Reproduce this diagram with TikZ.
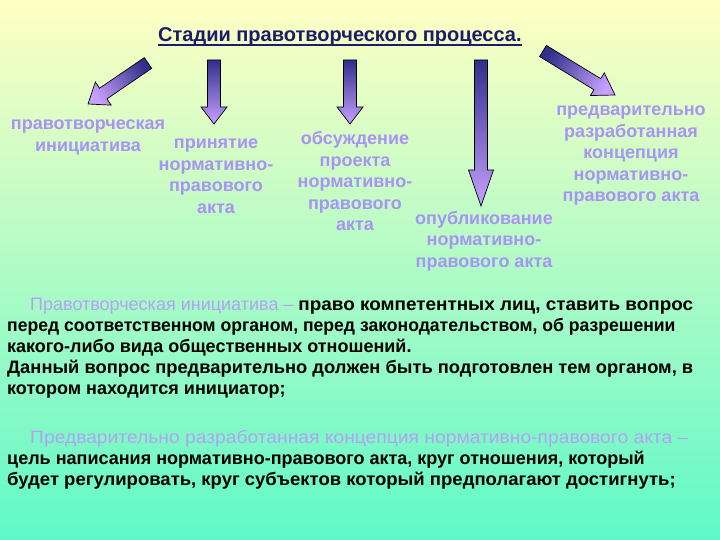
\documentclass[tikz,border=0pt]{standalone}
\usepackage{fontspec}
\setmainfont{Liberation Sans}
\usetikzlibrary{calc}
\definecolor{bgtop}{HTML}{FFFFC4}
\definecolor{bgbot}{HTML}{60F8C8}
\definecolor{arrdark}{HTML}{30308C}
\definecolor{arrlight}{HTML}{C8A0FF}
\definecolor{lav}{HTML}{A993F5}
\definecolor{lavb}{HTML}{B6A0F7}
\definecolor{navy}{HTML}{1C1C6E}
\tikzset{
  arrbody/.style={draw=black, line width=0.7pt, line join=miter, top color=arrdark, bottom color=arrlight},
  lbl/.style={text=lav, font=\bfseries\fontsize{18}{21.5}\selectfont, align=center, inner sep=0pt},
  bodyline/.style={anchor=base west, inner sep=0pt, font=\fontsize{18}{21}\selectfont},
  ttl/.style={text=navy, font=\bfseries\fontsize{20}{23}\selectfont, inner sep=0pt, anchor=base west}
}
% #1 tail, #2 tip, #3 head length, #4 head half width, #5 shading angle, #6 name of head base
\newcommand{\blockarrow}[6]{%
  \coordinate (#6) at ($(#2)!#3!(#1)$);
  \shadedraw[arrbody, shading angle=#5]
    ($(#1)!6.5pt!90:(#2)$) -- ($(#6)!6.5pt!90:(#2)$) -- ($(#6)!#4!90:(#2)$) -- (#2)
    -- ($(#6)!#4!-90:(#2)$) -- ($(#6)!6.5pt!-90:(#2)$) -- ($(#1)!6.5pt!-90:(#2)$) -- cycle;
}
\begin{document}
\begin{tikzpicture}[x=1pt,y=-1pt]
\useasboundingbox (0,0) rectangle (720,540);
\shade[top color=bgtop, bottom color=bgbot] (0,0) rectangle (720,540);

% title
\node[ttl] (title) at (158,42) {Стадии правотворческого процесса.};
\draw[navy, line width=1.4pt] ([yshift=-3pt]title.base west) -- ([yshift=-3pt]title.base east);

% arrows
\coordinate (t1) at (148,63);  \coordinate (h1) at (88,104);
\coordinate (t2) at (214,60);  \coordinate (h2) at (214,124);
\coordinate (t3) at (350,60);  \coordinate (h3) at (350,124);
\coordinate (t4) at (481,60);  \coordinate (h4) at (481,206);
\coordinate (t5) at (543,51);  \coordinate (h5) at (615,95);
\blockarrow{t1}{h1}{18.5pt}{14pt}{-55.7}{b1}
\blockarrow{t2}{h2}{17pt}{13pt}{0}{b2}
\blockarrow{t3}{h3}{17pt}{13pt}{0}{b3}
\blockarrow{t4}{h4}{36pt}{12.5pt}{0}{b4}
\blockarrow{t5}{h5}{20.7pt}{13.3pt}{58.6}{b5}

% labels
\node[lbl, anchor=center] (l1) at (88,137.5) {правотворческая\\инициатива};
\node[lbl, anchor=center] (l2) at (216,176) {принятие\\нормативно-\\правового\\акта};
\node[lbl, anchor=center] (l3) at (355,181) {обсуждение\\проекта\\нормативно-\\правового\\акта};
\node[lbl, anchor=center] (l4) at (484,241) {опубликование\\нормативно-\\правового акта};
\node[lbl, anchor=center] (l5) at (631,156) {предварительно\\разработанная\\концепция\\нормативно-\\правового акта};

% body text
\node[bodyline] (p1) at (30,310) {{\color{lavb}Правотворческая инициатива –} \scalebox{1.05}[1]{\bfseries право компетентных лиц, ставить вопрос}};
\node[bodyline] (p2) at (7,331) {\scalebox{0.977}[1]{\bfseries перед соответственном органом, перед законодательством, об разрешении}};
\node[bodyline] (p3) at (7,352) {\bfseries какого-либо вида общественных отношений.};
\node[bodyline] (p4) at (7,373) {\scalebox{1.018}[1]{\bfseries Данный вопрос предварительно должен быть подготовлен тем органом, в}};
\node[bodyline] (p5) at (7,394) {\bfseries котором находится инициатор;};
\node[bodyline] (p6) at (30,443) {\scalebox{1.07}[1]{\color{lavb}Предварительно разработанная концепция нормативно-правового акта –}};
\node[bodyline] (p7) at (7,464) {\bfseries цель написания нормативно-правового акта, круг отношения, который};
\node[bodyline] (p8) at (7,485) {\scalebox{1.028}[1]{\bfseries будет регулировать, круг субъектов который предполагают достигнуть;}};
\end{tikzpicture}
\end{document}
